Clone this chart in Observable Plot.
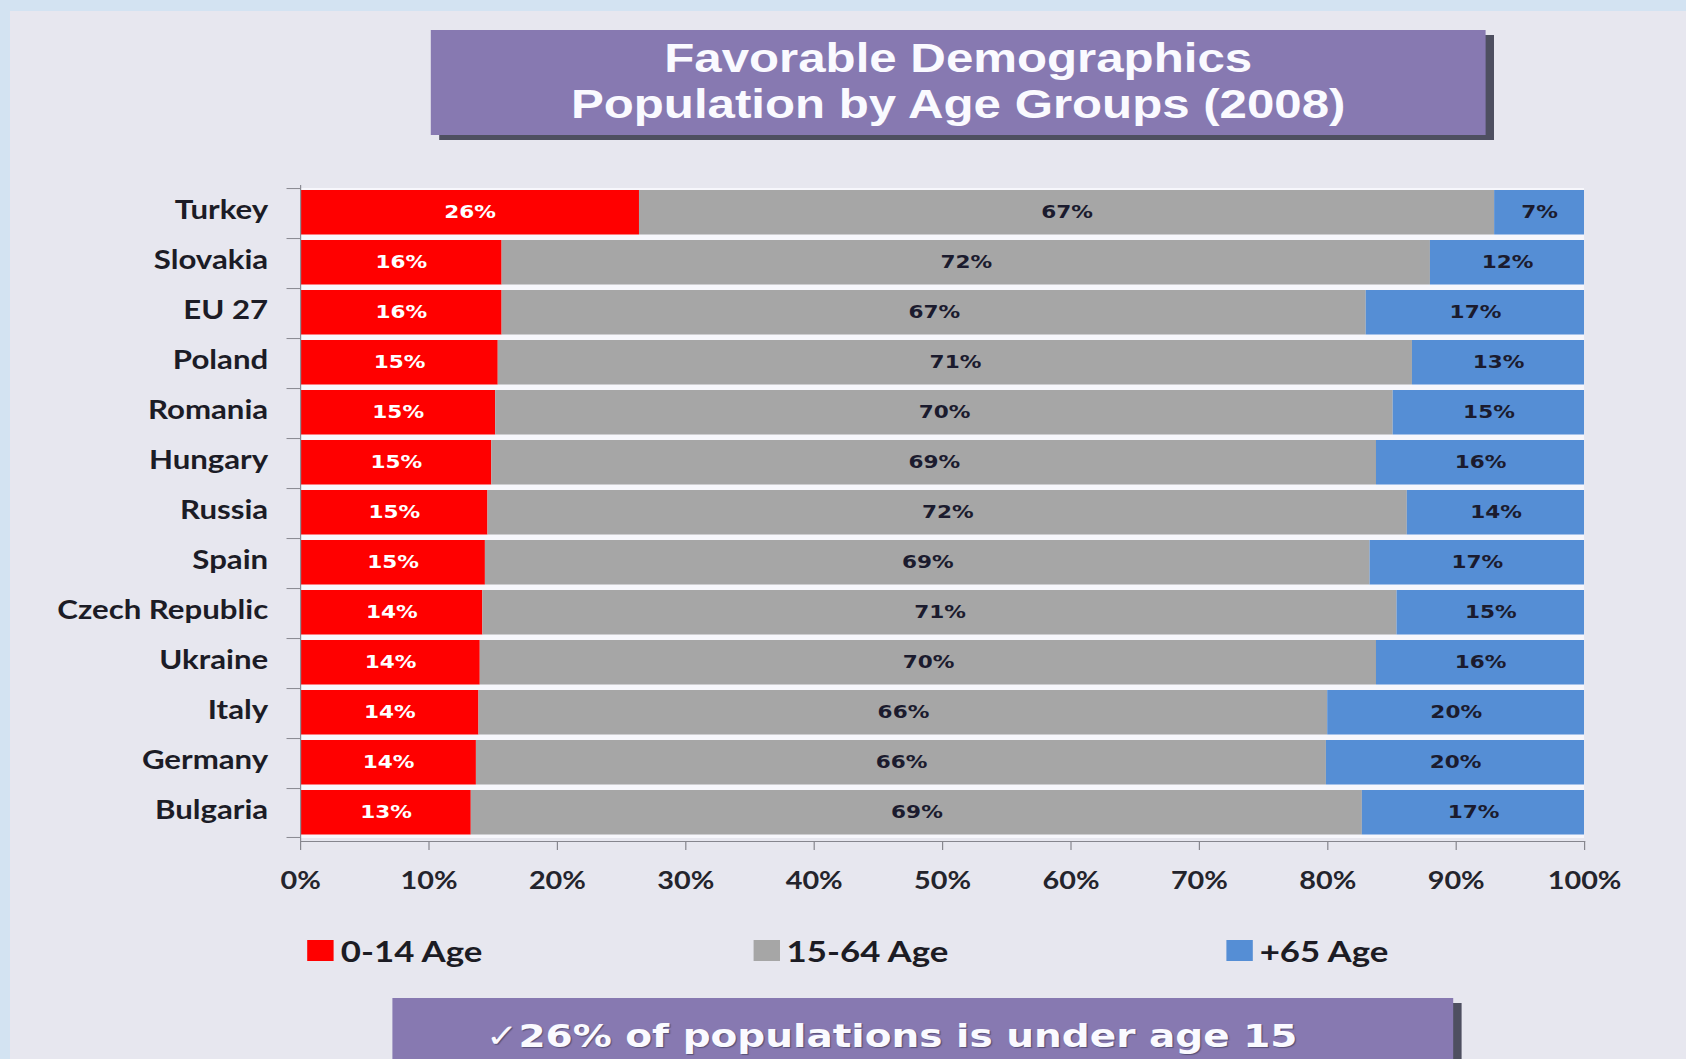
<!DOCTYPE html>
<html>
<head>
<meta charset="utf-8">
<script src="https://cdn.jsdelivr.net/npm/d3@7"></script>
<script src="https://cdn.jsdelivr.net/npm/@observablehq/plot@0.6"></script>
<style>
  html, body { margin:0; padding:0; width:1686px; height:1059px; overflow:hidden;
    background:#d3e3f2; }
  #panel { position:absolute; left:10px; top:11px; right:0; bottom:0; background:#e7e7ef; }
  #wrap { position:absolute; left:0; top:0; width:1405px; height:1059px;
    transform:scale(1.2,1); transform-origin:0 0; }
  .box { position:absolute; background:#8779b1; box-shadow:7px 5px 0 #4e4f60; color:#fafaff; text-align:center; }
  #title { left:359px; top:30px; width:879px; height:105px;
    font-family:"Liberation Sans", Arial, sans-serif; font-weight:bold; font-size:41px; line-height:46px;
    padding-top:5px; box-sizing:border-box; }
  #chart { position:absolute; left:0; top:170px; }
  .leg { position:absolute; top:938px; height:24px; display:flex; align-items:center;
    font-family:Lato, sans-serif; font-weight:bold; font-size:29px; color:#1c1c24; }
  .leg span.sw { display:inline-block; width:22px; height:21px; margin-right:6px; }
  #note { left:327px; top:998px; width:884px; height:80px;
    font-family:"DejaVu Sans", Verdana, sans-serif; font-weight:bold; font-size:32.5px;
    line-height:76px; padding-right:52px; box-sizing:border-box;
    text-shadow:1px 1px 1px rgba(40,40,60,0.5); }
</style>
</head>
<body>
<div id="panel"></div>
<div id="wrap">
  <div id="title" class="box"></div>
  <div id="chart"></div>
  <div id="legend"></div>
  <div id="note" class="box"></div>
</div>
<script>
// ---- data ----
const titleLines = ["Favorable Demographics", "Population by Age Groups (2008)"];
const noteText = "\u271326% of populations is under age 15";
const countries = ["Turkey","Slovakia","EU 27","Poland","Romania","Hungary","Russia","Spain","Czech Republic","Ukraine","Italy","Germany","Bulgaria"];
const groups = ["0-14 Age","15-64 Age","+65 Age"];
const colors = ["#ff0000","#a6a6a6","#558ed5"];
const age0to14  = [26.4,15.7,15.7,15.4,15.2,14.9,14.6,14.4,14.2,14.0,13.9,13.7,13.3];
const age15to64 = [66.6,72.3,67.3,71.2,69.9,68.9,71.6,68.9,71.2,69.8,66.1,66.2,69.4];
const age65plus = [7.0,12.0,17.0,13.4,14.9,16.2,13.8,16.7,14.6,16.2,20.0,20.1,17.3];
const labels0to14  = [26,16,16,15,15,15,15,15,14,14,14,14,13];
const labels15to64 = [67,72,67,71,70,69,72,69,71,70,66,66,69];
const labels65plus = [7,12,17,13,15,16,14,17,15,16,20,20,17];
const xTicks = [0,10,20,30,40,50,60,70,80,90,100];

// ---- build table ----
const series = [age0to14, age15to64, age65plus];
const labelSets = [labels0to14, labels15to64, labels65plus];
const rows = [];
countries.forEach((c, i) => {
  groups.forEach((g, j) => rows.push({country: c, group: g, value: series[j][i], label: labelSets[j][i] + "%"}));
});

// ---- title / note ----
document.getElementById("title").innerHTML = titleLines.map(t => `<div>${t}</div>`).join("");
document.getElementById("note").textContent = noteText;

// ---- chart ----
const W = 1405, H = 740, mt = 15, mb = 69, ml = 250, mr = 85;
const step = (H - mt - mb) / countries.length;
const sansBold = {fontFamily: "Lato, sans-serif", fontWeight: "bold"};
const labelFont = {fontFamily: "DejaVu Sans, sans-serif", fontWeight: "bold", fontSize: 18, dy: -1};

const chart = Plot.plot({
  width: W, height: H,
  marginTop: mt, marginBottom: mb, marginLeft: ml, marginRight: mr,
  style: {background: "transparent", fontFamily: "Lato, sans-serif", overflow: "visible"},
  x: {domain: [0, 100], axis: null},
  y: {domain: countries, padding: 0, axis: null},
  color: {domain: groups, range: colors},
  marks: [
    // light gaps between rows
    Plot.barX(countries, {y: d => d, x1: 0, x2: 100, fill: "#f7f7fc"}),
    // stacked bars
    Plot.barX(rows, Plot.stackX({x: "value", y: "country", fill: "group", z: "group", order: groups, insetTop: 2, insetBottom: 3.5})),
    // value labels
    Plot.text(rows, Plot.stackX({x: "value", y: "country", z: "group", order: groups,
      text: d => d.group === groups[0] ? d.label : null, fill: "#ffffff", ...labelFont})),
    Plot.text(rows, Plot.stackX({x: "value", y: "country", z: "group", order: groups,
      text: d => d.group !== groups[0] ? d.label : null, fill: "#1b1b2e", ...labelFont})),
    // y-axis line and boundary ticks
    Plot.frame({anchor: "left", stroke: "#8c8c94"}),
    Plot.barX(countries, {y: d => d, x1: -1.05, x2: 0, insetBottom: step - 1.5, fill: "#8c8c94"}),
    Plot.barX(countries.slice(-1), {y: d => d, x1: -1.05, x2: 0, insetTop: step - 1.5, fill: "#8c8c94"}),
    // country labels
    Plot.axisY({tickSize: 0, tickPadding: 27, fontSize: 26, ...sansBold, color: "#1c1c26", label: null, dy: -3}),
    // x axis
    Plot.frame({anchor: "bottom", stroke: "#86868e"}),
    Plot.axisX({ticks: xTicks, tickFormat: d => d + "%", tickSize: 9, tickPadding: 21,
      fontSize: 24, ...sansBold, color: "#24242c", stroke: "#86868e", label: null})
  ]
});
document.getElementById("chart").appendChild(chart);

// ---- legend ----
const legX = [[256, 284], [627.5, 657.5], [1021.7, 1045]];
const legend = document.getElementById("legend");
groups.forEach((g, j) => {
  const item = document.createElement("div");
  item.className = "leg";
  item.style.left = legX[j][0] + "px";
  item.innerHTML = `<span class="sw" style="background:${colors[j]}"></span><span>${g}</span>`;
  legend.appendChild(item);
});
</script>
</body>
</html>
